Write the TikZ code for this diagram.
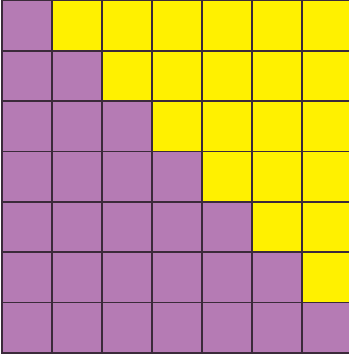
\documentclass[tikz,border=0pt]{standalone}
\usepackage{xcolor}
\definecolor{cellpurple}{HTML}{B57BB4}
\definecolor{cellyellow}{HTML}{FFF100}
\definecolor{gridline}{HTML}{3B2A3A}
\begin{document}
\begin{tikzpicture}[x=1bp,y=-1bp,
        cell/.style={draw=gridline,line width=1.6bp}]
        \useasboundingbox (0,0) rectangle (349,360);
        \clip (0,0) rectangle (349,360);
        % lower triangle purple, rest yellow
        \foreach \r in {0,...,6}{
          \foreach \c in {0,...,6}{
            \ifnum\c>\r \def\cc{cellyellow}\else \def\cc{cellpurple}\fi
            \filldraw[cell,fill=\cc] ({2+49.95*\c},{0.5+50.35*\r}) rectangle ++(49.95,50.35);
          }
        }
      \end{tikzpicture}
\end{document}
